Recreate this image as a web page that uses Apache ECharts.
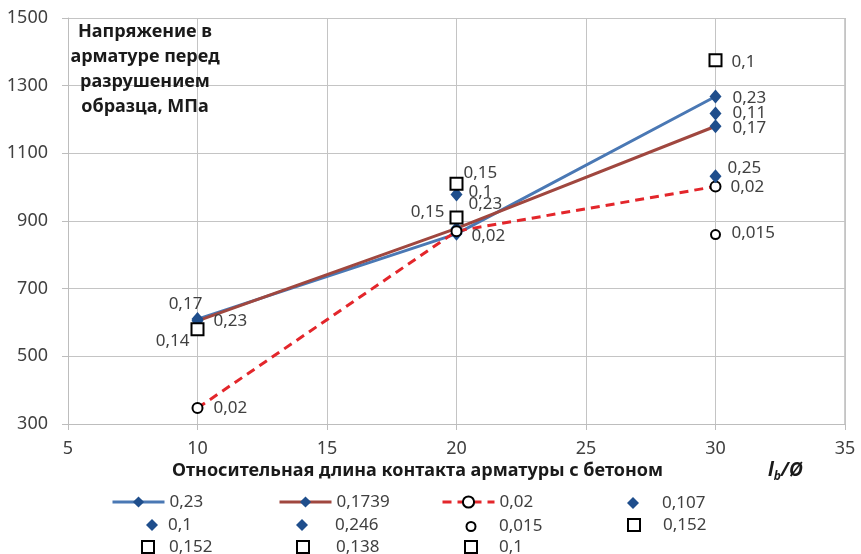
<!DOCTYPE html>
<html>
<head>
<meta charset="utf-8">
<script src="https://cdn.jsdelivr.net/npm/echarts@6/dist/echarts.min.js"></script>
<style>
  html, body { margin: 0; padding: 0; background: #fff; }
  #chart { width: 861px; height: 554px; }
</style>
</head>
<body>
<div id="chart"></div>
<script>
// values
const xVals = [10, 20, 30];
const line023 = [610, 862, 1268];
const line01739 = [605, 878, 1180];
const line002 = [347, 870, 1002];
const lbl023 = ['0,23', '0,23', '0,23'];
const lbl01739 = ['0,17', '', '0,17'];
const lbl002 = ['0,02', '0,02', '0,02'];

const pts0107 = [[30, 1218]];
const pts01d = [[20, 978]];
const pts0246 = [[30, 1032]];
const pts0015 = [[30, 860]];
const pts0152a = [[20, 1010]];
const pts0152b = [[20, 910]];
const pts0138 = [[10, 580]];
const pts01s = [[30, 1375]];
const lbl0107 = ['0,11'];
const lbl01d = ['0,1'];
const lbl0246 = ['0,25'];
const lbl0015 = ['0,015'];
const lbl0152a = ['0,15'];
const lbl0152b = ['0,15'];
const lbl0138 = ['0,14'];
const lbl01s = ['0,1'];

const xTicks = { min: 5, max: 35, step: 5 };
const yTicks = { min: 300, max: 1500, step: 200 };

const FONT = '"Noto Sans", sans-serif';
const TXT = '#404040';
const BLUE_LINE = '#4a78b4';
const RED_LINE = '#a0473f';
const DASH_RED = '#e3262b';
const DIAMOND = '#1f4e8c';

function lab(text, off) {
  return {
    show: !!text,
    formatter: text,
    position: 'inside',
    align: off[2],
    verticalAlign: 'middle',
    offset: [off[0], off[1]],
    color: TXT,
    fontSize: 17,
    fontFamily: FONT
  };
}

// label offsets per point: [dx, dy, align]
function pointsFromLine(ys, labels, offs) {
  return xVals.map((x, i) => ({ value: [x, ys[i]], label: lab(labels[i], offs[i]) }));
}
function pointsFromList(pts, labels, offs) {
  return pts.map((p, i) => ({ value: p, label: lab(labels[i], offs[i]) }));
}

const diamond = { symbol: 'diamond', symbolSize: [12, 14], itemStyle: { color: DIAMOND, opacity: 1 } };
const square = { symbol: 'rect', symbolSize: 12, itemStyle: { color: '#fff', borderColor: '#000', borderWidth: 2, opacity: 1 } };
const circle = { symbol: 'circle', symbolSize: 9, itemStyle: { color: '#fff', borderColor: '#000', borderWidth: 2, opacity: 1 } };

const series = [
  {
    name: '0,23', type: 'line', z: 2, ...diamond,
    lineStyle: { color: BLUE_LINE, width: 3 },
    data: pointsFromLine(line023, lbl023, [[16, 2, 'left'], [12, -30, 'left'], [17, 2, 'left']])
  },
  {
    name: '0,1739', type: 'line', z: 2, ...diamond,
    lineStyle: { color: RED_LINE, width: 3 },
    data: pointsFromLine(line01739, lbl01739, [[-12, -17, 'center'], [0, 0, 'left'], [17, 2, 'left']])
  },
  {
    name: '0,02', type: 'line', z: 2, symbol: 'circle', symbolSize: 10,
    itemStyle: { color: '#fff', borderColor: '#000', borderWidth: 2 },
    lineStyle: { color: DASH_RED, width: 3, type: [9, 6] },
    data: pointsFromLine(line002, lbl002, [[16, 0, 'left'], [15, 5, 'left'], [15, 1, 'left']])
  },
  { name: '0,107', type: 'scatter', z: 3, ...diamond, data: pointsFromList(pts0107, lbl0107, [[17, 0, 'left']]) },
  { name: '0,1', type: 'scatter', z: 3, ...diamond, data: pointsFromList(pts01d, lbl01d, [[12, -2, 'left']]) },
  { name: '0,246', type: 'scatter', z: 3, ...diamond, data: pointsFromList(pts0246, lbl0246, [[12, -8, 'left']]) },
  { name: '0,015', type: 'scatter', z: 3, ...circle, data: pointsFromList(pts0015, lbl0015, [[16, -1, 'left']]) },
  { name: '0,152', type: 'scatter', z: 3, ...square, data: pointsFromList(pts0152a, lbl0152a, [[7, -11, 'left']]) },
  { name: '0,152 ', type: 'scatter', z: 3, ...square, data: pointsFromList(pts0152b, lbl0152b, [[-12, -5, 'right']]) },
  { name: '0,138', type: 'scatter', z: 3, ...square, data: pointsFromList(pts0138, lbl0138, [[-8, 12, 'right']]) },
  { name: '0,1 ', type: 'scatter', z: 3, ...square, data: pointsFromList(pts01s, lbl01s, [[16, 2, 'left']]) }
];

// legend laid out as a 4-column table, one legend per cell
const legText = { color: TXT, fontSize: 17, fontFamily: FONT, lineHeight: 18 };
function legLine(name, textX, rowY) {
  const w = 52, h = 14;
  return {
    data: [name], left: textX - 5 - w, top: rowY - h / 2,
    itemWidth: w, itemHeight: h, padding: 0, selectedMode: false,
    lineStyle: { width: 3 },
    formatter: n => n.trim(), textStyle: legText
  };
}
function legMark(name, textX, rowY, cx, h) {
  return {
    data: [name], left: cx - h / 2, top: rowY - h / 2,
    itemWidth: h, itemHeight: h, padding: 0, selectedMode: false,
    formatter: n => n.trim(),
    textStyle: { ...legText, padding: [0, 0, 0, textX - (cx + h / 2) - 5] }
  };
}
const C1 = 168, C2 = 335, C3 = 498, C4 = 662;
const R1 = 500, R2 = 522, R3 = 544;
const legends = [
  legLine('0,23', C1, R1),
  legLine('0,1739', C2, R1),
  legLine('0,02', C3, R1),
  legMark('0,107', C4, R1, 633, 12),
  legMark('0,1', C1, R2, 152, 12),
  legMark('0,246', C2, R2, 302, 12),
  legMark('0,015', C3, R2, 470, 9),
  legMark('0,152', C4, R2, 633, 12),
  legMark('0,152 ', C1, R3, 147, 12),
  legMark('0,138', C2, R3, 302, 12),
  legMark('0,1 ', C3, R3, 470, 12)
];

const chart = echarts.init(document.getElementById('chart'));
chart.setOption({
  animation: false,
  backgroundColor: '#fff',
  grid: { left: 68, right: 16, top: 18, bottom: 130 },
  xAxis: {
    type: 'value', min: xTicks.min, max: xTicks.max, interval: xTicks.step,
    axisLine: { show: true, lineStyle: { color: '#bdbdbd', width: 1 } },
    axisTick: { show: true, length: 6, lineStyle: { color: '#bdbdbd' } },
    splitLine: { show: true, lineStyle: { color: '#c4c4c4', width: 1 } },
    axisLabel: { color: TXT, fontSize: 18, fontFamily: FONT, margin: 16, formatter: v => String(v) }
  },
  yAxis: {
    type: 'value', min: yTicks.min, max: yTicks.max, interval: yTicks.step,
    axisLine: { show: true, lineStyle: { color: '#bdbdbd', width: 1 } },
    axisTick: { show: true, length: 6, lineStyle: { color: '#bdbdbd' } },
    splitLine: { show: true, lineStyle: { color: '#c4c4c4', width: 1 } },
    axisLabel: { color: TXT, fontSize: 18, fontFamily: FONT, margin: 20, formatter: v => String(v) }
  },
  legend: legends,
  graphic: [
    {
      type: 'rect', shape: { x: 845, y: 18, width: 0, height: 406 },
      style: { stroke: '#bdbdbd', lineWidth: 1 }, silent: true
    },
    {
      type: 'text', x: 145, y: 19, z: 10,
      style: {
        text: 'Напряжение в\nарматуре перед\nразрушением\nобразца, МПа',
        font: 'bold 18px "Noto Sans", sans-serif',
        fill: '#1a1a1a', align: 'center', verticalAlign: 'top', lineHeight: 25
      }
    },
    {
      type: 'text', x: 172, y: 471, z: 10,
      style: {
        text: 'Относительная длина контакта арматуры с бетоном',
        font: 'bold 18px "Noto Sans", sans-serif',
        fill: '#1a1a1a', align: 'left', verticalAlign: 'middle'
      }
    },
    {
      type: 'text', x: 768, y: 471, z: 10,
      style: {
        text: '{l|l}{b|b}{r|/Ø}',
        verticalAlign: 'middle', align: 'left',
        rich: {
          l: { fontSize: 19, fontStyle: 'italic', fontWeight: 'bold', fontFamily: FONT, fill: '#1a1a1a', lineHeight: 24 },
          b: { fontSize: 12, fontStyle: 'italic', fontWeight: 'bold', fontFamily: FONT, fill: '#1a1a1a', lineHeight: 12, verticalAlign: 'bottom' },
          r: { fontSize: 19, fontStyle: 'italic', fontWeight: 'bold', fontFamily: FONT, fill: '#1a1a1a', lineHeight: 24 }
        }
      }
    }
  ],
  series: series
});
</script>
</body>
</html>
